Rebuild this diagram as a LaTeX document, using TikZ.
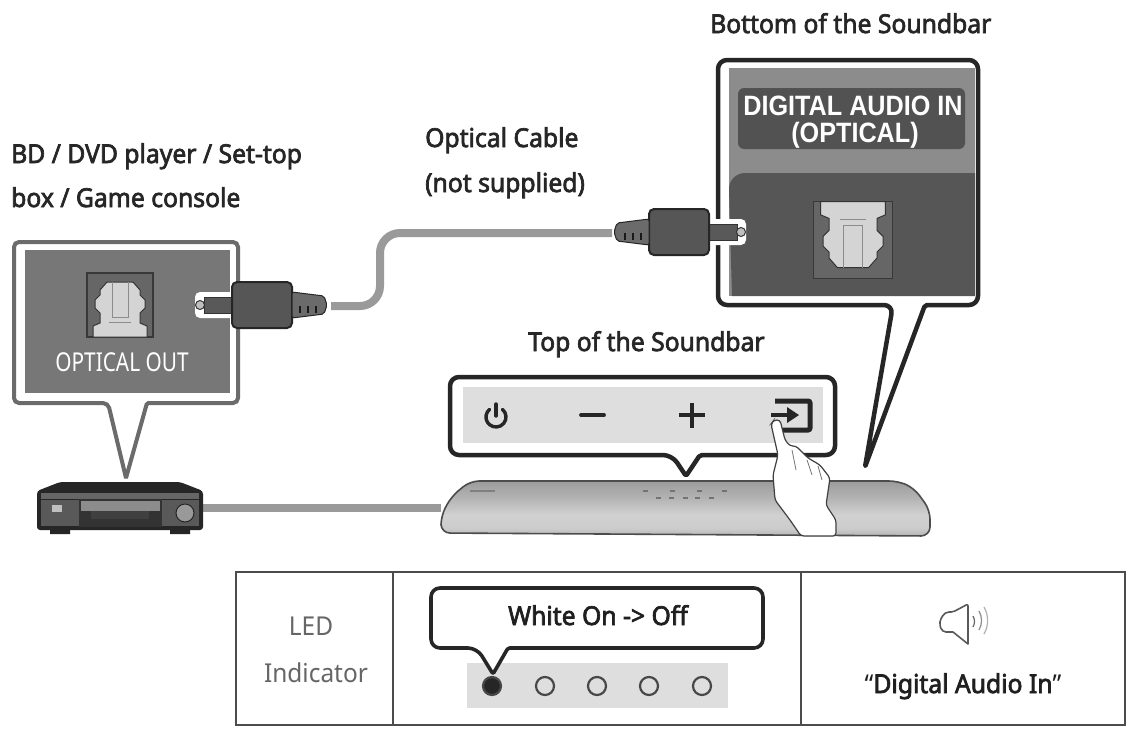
\documentclass[tikz,border=0pt]{standalone}
\usepackage{fontspec}
\newfontfamily\lab[FakeStretch=0.95,FakeBold=2.6]{Noto Sans}
\newfontfamily\lite[FakeStretch=0.94]{Noto Sans}
\newfontfamily\optf[FakeStretch=0.8]{Noto Sans}
\newfontfamily\hel[FakeStretch=0.9]{Liberation Sans}
\definecolor{ink}{HTML}{262626}
\definecolor{midg}{HTML}{777777}
\definecolor{darkg}{HTML}{565656}
\definecolor{cab}{HTML}{9A9A9A}
\definecolor{pale}{HTML}{DEDEDE}
\pgfdeclareverticalshading{barsh}{100bp}{color(0bp)=(white!40!black);color(6bp)=(white!68!black);color(14bp)=(white!56!black);color(32bp)=(white!80!black);color(44bp)=(white!82!black);color(60bp)=(white!70!black);color(80bp)=(white!58!black);color(94bp)=(white!45!black);color(100bp)=(white!30!black)}
\tikzset{
 txt/.style={anchor=base west,inner sep=0pt,text=black!85,font=\lab\fontsize{26}{28}\selectfont},
 ctxt/.style={anchor=base,inner sep=0pt,text=black!88,font=\lab\fontsize{26}{28}\selectfont},
 litetxt/.style={anchor=base,inner sep=0pt,text=black!60,font=\lite\fontsize{26}{28}\selectfont},
 cable/.style={draw=cab,line width=8pt},
 grayframe/.style={draw=black!58,fill=white,line width=4pt,rounded corners=5pt},
 darkframe/.style={draw=ink,fill=white,line width=4.5pt,rounded corners=9pt,line join=round},
 led/.style={circle,minimum size=18pt,inner sep=0pt,draw=black!72,line width=2.2pt,fill=pale},
 cell/.style={draw=black!70,line width=1.3pt},
 porticon/.pic={
  \path[fill=black!60,draw=black!78,line width=1.5pt] (-33,-32) rectangle (33,32);
  \path[fill=black!17,draw=black!80,line width=1pt] (-27,32) -- (-27,21) -- (-20,18) -- (-20,8) -- (-25,3) -- (-25,-5) -- (-20,-10)-- (-20,-15) -- (-13,-23) -- (13,-23) -- (20,-15) -- (20,-10) -- (25,-5) -- (25,3) -- (20,8) -- (20,18) -- (27,21) -- (27,32) -- cycle;
  \draw[black!45,line width=1pt] (-8,-23) -- (-8,12) -- (8,12) -- (8,-23) (-11,17) -- (11,17);
 },
 plugicon/.pic={
  \path[fill=white,rounded corners=5pt] (-67,-13) rectangle (-28,13);
  \path[fill=black!65,draw=black!80,line width=1pt] (-58,-8) rectangle (-28,8);
  \path[fill=black!25,draw=black!80,line width=1pt] (-62,0) circle (4.5);
  \path[fill=darkg,draw=ink,line width=2pt,rounded corners=5pt] (-30,-23) rectangle (30,23);
  \path[fill=black!58,draw=ink,line width=1pt,rounded corners=2pt] (30,-13) -- (62,-9) -- (65,0) -- (62,9) -- (30,13) -- cycle;
  \foreach \q in {38,46,54}{\draw[black!90,line width=1.6pt] (\q,1) -- (\q,8);}
 }
}
\begin{document}
\begin{tikzpicture}[x=1pt,y=-1pt]
\useasboundingbox[fill=white] (0,0) rectangle (1129,729);

% labels
\node[txt] (lblBottom) at (710,33) {Bottom of the Soundbar};
\node[txt] (lblBD) at (11,163) {BD / DVD player / Set-top};
\node[txt] (lblBox) at (11,207) {box / Game console};
\node[txt] (lblCable) at (425,147) {Optical Cable};
\node[txt] (lblNot) at (425,192) {(not supplied)};
\node[txt] (lblTop) at (528,351) {Top of the Soundbar};

% left bubble
\path[grayframe] (14,242) -- (14,403) -- (108,403) [rounded corners=1.5pt] -- (126,478) [rounded corners=1.5pt] -- (147,403) [rounded corners=5pt] -- (238,403) -- (238,242) -- cycle;
\path[fill=midg] (25,250) rectangle (230,393);
\pic at (120,305) {porticon};
\node[anchor=base,inner sep=0pt,text=white,font=\optf\fontsize{26}{28}\selectfont] (optOut) at (122,371) {OPTICAL OUT};

% right bubble
\path[darkframe] (718,60) -- (718,305) -- (893,305) [rounded corners=2pt] -- (865,467) -- (925,305) [rounded corners=9pt] -- (978,305) -- (978,60) -- cycle;
\path[fill=black!45] (729,68) rectangle (975,296);
\path[fill=darkg] (732,296) -- (729,190) [rounded corners=16pt] -- (729,173) [sharp corners] -- (975,173) -- (975,296) -- cycle;
\node[fill=black!68,rounded corners=6pt,minimum width=227pt,minimum height=61pt,inner sep=0pt] (digBox) at (851.5,118.5) {};
\node[anchor=base,inner sep=0pt,text=white,font=\hel\bfseries\fontsize{28}{28}\selectfont] (digA) at (853,115) {DIGITAL AUDIO IN};
\node[anchor=base,inner sep=0pt,text=white,font=\hel\bfseries\fontsize{28}{28}\selectfont] (digB) at (855,142) {(OPTICAL)};
\pic[scale=1.2,yscale=-1] at (853,240) {porticon};

% optical cable and plugs
\coordinate (cabL) at (331,306);
\coordinate (cabR) at (612,233);
\draw[cable,rounded corners=20pt] (cabL) -- (380,306) -- (380,233) -- (cabR);
\pic at (262,305) {plugicon};
\pic[xscale=-1] at (679,232) {plugicon};

% top bubble
\path[darkframe] (450,377) -- (450,455) -- (672,455) [rounded corners=2pt] -- (686,476) -- (700,455) [rounded corners=9pt] -- (835,455) -- (835,377) -- cycle;
\path[fill=pale] (463,387) rectangle (823,443);
\draw[ink,line width=3.4pt,line cap=round] ([shift={(-50:10)}]496,417) arc[start angle=-50,end angle=230,radius=10];
\draw[ink,line width=3.4pt,line cap=round] (496,404) -- (496,416);
\draw[ink,line width=3.8pt,line cap=round] (581,415) -- (604,415);
\draw[ink,line width=3.6pt] (679,415) -- (705,415) (692,403) -- (692,428);
\draw[ink,line width=5pt,rounded corners=2pt] (775,401) -- (810,401) -- (810,430) -- (775,430);
\draw[ink,line width=4.2pt] (771,415) -- (792,415);
\path[fill=ink] (787,407) -- (799,415) -- (787,423) -- cycle;

% soundbar
\path[shading=barsh,draw=black!70,line width=1.6pt,rounded corners=9pt] (441,533) -- (441,516) -- (451,497) -- (470,481) -- (898,481) -- (914,488) -- (930,510) -- (930,536) -- cycle;
\foreach \q/\r in {645/491,672/491,699/491,724/491,658/498,671/498,685/498,697/498,711/498}{\path[fill=black!55] (\q-2.5,\r-.7) rectangle (\q+2.5,\r+.7);}
\path[fill=black!50] (470,490.3) rectangle (495,491.7);

% hand
\path[fill=white,draw=black!75,line width=1.2pt,rounded corners=3pt] (774,420) -- (771,424) -- (778,455) -- (773,475) -- (775,500) -- (790,520) -- (801,536) -- (836,536) -- (836,520) -- (826,505) -- (830,478) -- (820,465) -- (808,458) -- (796,446) -- (790,446) -- (785,440) -- (780,420) -- cycle;
\draw[black!55,line width=.8pt] (792,450) -- (796,470) (807,460) -- (812,475) (818,466) -- (822,480);

% player
\coordinate (plR) at (203,508);
\coordinate (barL) at (441,508);
\draw[cable] (plR) -- (barL);
\path[fill=ink,rounded corners=3pt] (37,491) -- (60,482) -- (180,482) -- (203,491) -- (203,530) -- (37,530) -- cycle;
\path[fill=ink] (50,528) rectangle (70,534) (170,528) rectangle (190,534);
\path[fill=black!60] (41,493) rectangle (199,499);
\path[fill=black!65] (41,500) rectangle (199,526);
\path[fill=black!80] (79,499) rectangle (162,527);
\path[fill=black!45] (81,501) rectangle (160,511);
\path[fill=black!75] (91,511) rectangle (149,519);
\path[fill=black!25] (52,505) rectangle (62,512);
\path[fill=black!40,draw=ink,line width=1pt] (185,513) circle (9);

% table
\draw[cell] (236,572) rectangle (1125,725);
\draw[cell] (393,572) -- (393,725) (801,572) -- (801,725);
\node[litetxt] (ledA) at (311,635) {LED};
\node[litetxt] (ledB) at (316,682) {Indicator};
\path[fill=pale] (467,663) rectangle (728,708);
\path[draw=ink,fill=white,line width=3.6pt,rounded corners=9pt,line join=round] (431,588) -- (431,648) -- (477,648) [rounded corners=1.5pt] -- (493,674) -- (508,648) [rounded corners=9pt] -- (763,648) -- (763,588) -- cycle;
\node[ctxt] (white) at (598,625) {White On -> Off};
\node[led,fill=ink] (l1) at (492,686) {};
\node[led] (l2) at (545,686) {};
\node[led] (l3) at (597,686) {};
\node[led] (l4) at (649,686) {};
\node[led] (l5) at (702,686) {};
\path[draw=black!65,line width=1.6pt,fill=white,line join=round,rounded corners=2pt] (945,612) -- (953,612) -- (968,604) [rounded corners=0pt] -- (968,644) -- (953,632) [rounded corners=4pt] -- (942,632) -- (939,622) -- cycle;
\draw[black!60,line width=1.2pt] (973,616) arc[start angle=-30,end angle=30,radius=11];
\draw[black!45,line width=1.2pt] (979,611) arc[start angle=-30,end angle=30,radius=19];
\draw[black!30,line width=1.2pt] (984,607) arc[start angle=-30,end angle=30,radius=27];
\node[ctxt] (say) at (963,693) {{\lite\textquotedblleft}Digital Audio In{\lite\textquotedblright}};
\end{tikzpicture}
\end{document}
